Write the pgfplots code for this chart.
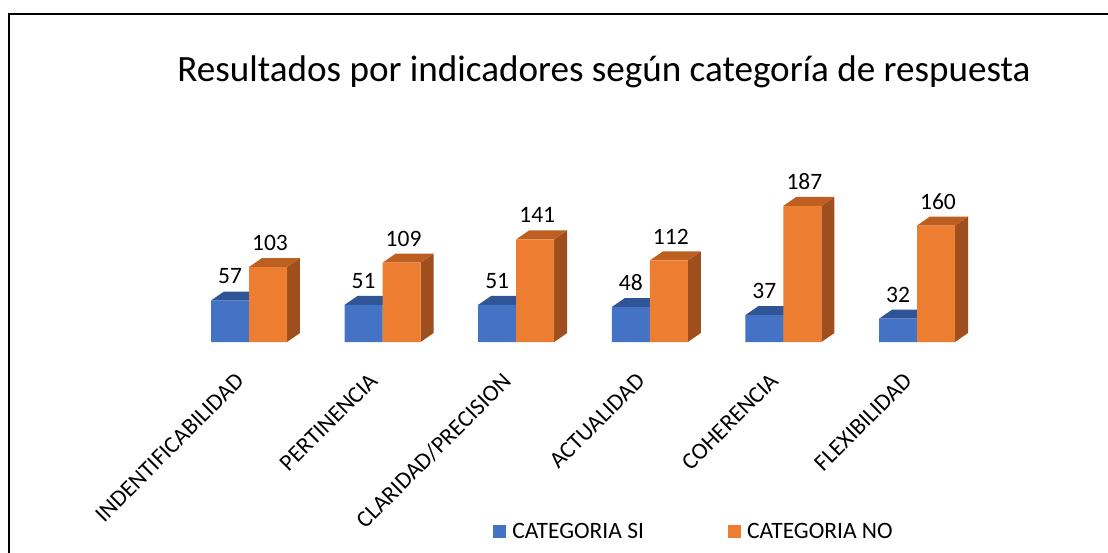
\documentclass[border=0pt]{standalone}
\usepackage{pgfplots}
\pgfplotsset{compat=1.18}
\usepackage{fontspec}
\setmainfont{Carlito}
\definecolor{bfront}{HTML}{4472C4}
\definecolor{btop}{HTML}{2F5597}
\definecolor{bside}{HTML}{2B4C87}
\definecolor{ofront}{HTML}{ED7D31}
\definecolor{otop}{HTML}{BE5F22}
\definecolor{oside}{HTML}{9E4F1D}
\newcommand{\lbl}{\fontsize{23.5bp}{28bp}\selectfont}
% 3D faces: #1 x centre of bar, #2 value, #3 top colour, #4 side colour
\newcommand{\threed}[4]{%
  \pgfmathsetmacro{\xl}{#1-0.1422}%
  \pgfmathsetmacro{\xr}{#1+0.1422}%
  \pgfmathsetmacro{\xlb}{#1-0.1422+0.0973}%
  \pgfmathsetmacro{\xrb}{#1+0.1422+0.0973}%
  \pgfmathsetmacro{\vb}{#2+12.36}%
  \addplot[forget plot, fill=#4, draw=none, mark=none] coordinates {(\xr,0) (\xrb,12.36) (\xrb,\vb) (\xr,#2)} -- cycle;
  \addplot[forget plot, fill=#3, draw=none, mark=none] coordinates {(\xl,#2) (\xlb,\vb) (\xrb,\vb) (\xr,#2)} -- cycle;
}
\begin{document}
\begin{tikzpicture}
\useasboundingbox (0,0) rectangle (1108bp,553bp);
\draw[line width=2.4bp] (9bp,-2bp) -- (9bp,539bp) -- (1110bp,539bp);
\node[anchor=base, font=\fontsize{37.1bp}{42bp}\selectfont] at (604bp,471bp) {Resultados por indicadores según categoría de respuesta};
\begin{axis}[
  at={(182.2bp,211bp)}, anchor=south west,
  scale only axis, width=801.6bp, height=145.6bp,
  xmin=-0.5, xmax=5.5, ymin=0, ymax=200,
  axis x line*=bottom, axis y line=none,
  axis line style={draw=none},
  major tick length=0pt,
  clip=false,
  /pgf/number format/assume math mode=true,
  xtick={0,1,2,3,4,5},
  xticklabels={INDENTIFICABILIDAD,PERTINENCIA,CLARIDAD/PRECISION,ACTUALIDAD,COHERENCIA,FLEXIBILIDAD},
  xticklabel style={xshift=-9bp, rotate=45, anchor=east, inner sep=0pt, font=\lbl},
  xticklabel shift=35bp,
  ytick=\empty,
  legend style={draw=none, font=\lbl, at={(0.641,-1.301)}, anchor=center, legend columns=2,
    /tikz/every even column/.append style={column sep=77bp},
    nodes={inner xsep=6.5bp}},
  legend image code/.code={\fill[#1] (0bp,-6.5bp) rectangle (13bp,6.5bp);},
]
\threed{-0.1422}{57}{btop}{bside}
\threed{0.8578}{51}{btop}{bside}
\threed{1.8578}{51}{btop}{bside}
\threed{2.8578}{48}{btop}{bside}
\threed{3.8578}{37}{btop}{bside}
\threed{4.8578}{32}{btop}{bside}
\addplot[ybar, bar width=38bp, bar shift=-19bp, fill=bfront, draw=none,
  nodes near coords, every node near coord/.append style={anchor=center, yshift=24bp, xshift=-19bp, font=\lbl, text=black}]
  coordinates {(0,57) (1,51) (2,51) (3,48) (4,37) (5,32)};
\addlegendentry{CATEGORIA SI}
\threed{0.1422}{103}{otop}{oside}
\threed{1.1422}{109}{otop}{oside}
\threed{2.1422}{141}{otop}{oside}
\threed{3.1422}{112}{otop}{oside}
\threed{4.1422}{187}{otop}{oside}
\threed{5.1422}{160}{otop}{oside}
\addplot[ybar, bar width=38bp, bar shift=19bp, fill=ofront, draw=none,
  nodes near coords, every node near coord/.append style={anchor=center, yshift=24bp, xshift=21bp, font=\lbl, text=black}]
  coordinates {(0,103) (1,109) (2,141) (3,112) (4,187) (5,160)};
\addlegendentry{CATEGORIA NO}
\end{axis}
\end{tikzpicture}
\end{document}
